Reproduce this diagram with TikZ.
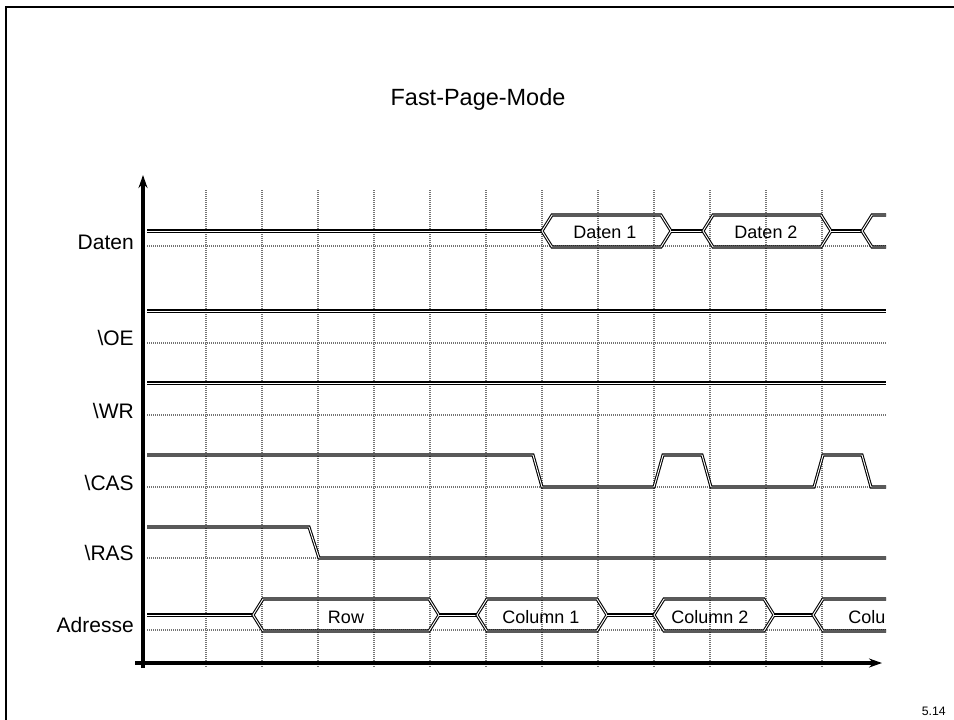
\documentclass[tikz,border=0pt]{standalone}
\usepackage{fontspec}
\setmainfont{Liberation Sans}
\usetikzlibrary{arrows.meta}
\newcommand\busbox[4]{% xl, xr, mid y, name
  \draw[sig] (#1,#3) -- (#1+10,#3-16) -- (#2-10,#3-16) -- (#2,#3) -- (#2-10,#3+16) -- (#1+10,#3+16) -- cycle;}
\begin{document}
\begin{tikzpicture}[x=0.75pt,y=-0.75pt,
  sig/.style={draw=black, double=white, double distance=0.7pt, line width=0.8pt, line join=miter},
  gridv/.style={draw=black!55, line width=2pt, dash pattern=on 0.75pt off 0.75pt},
  axisline/.style={draw=black, line width=3pt, -{Stealth[length=9.75pt,width=6.75pt]}},
  lab/.style={font=\fontsize{15.75}{18}\selectfont, anchor=base east, inner sep=0pt},
  boxtext/.style={font=\fontsize{13.5}{16}\selectfont, anchor=base, inner sep=0pt},
  frameline/.style={draw=black, line width=2.2pt}]
\useasboundingbox (0,0) rectangle (954,719);
% frame
\draw[frameline] (6,725) -- (6,7) -- (960,7);
% title
\node[font=\fontsize{17.6}{20}\selectfont, anchor=base, inner sep=0pt] (title) at (478,105) {Fast-Page-Mode};
% page number
\node[font=\fontsize{9.2}{11}\selectfont, anchor=base east, inner sep=0pt] (pagenum) at (946,715) {5.14};
% vertical grid
\foreach \k in {0,...,11} {
  \draw[gridv] (206+56*\k,190) -- (206+56*\k,668);
}
% horizontal reference lines
\foreach \y in {246,343,415,487,558,630} {
  \draw[gridv] (147,\y) -- (886,\y);
}
% labels
\node[lab] (lDaten) at (134,249.5) {Daten};
\node[lab] (lOE) at (134,345.5) {\textbackslash OE};
\node[lab] (lWR) at (134,418.5) {\textbackslash WR};
\node[lab] (lCAS) at (134,490.5) {\textbackslash CAS};
\node[lab] (lRAS) at (134,560.5) {\textbackslash RAS};
\node[lab] (lAdr) at (134,632.5) {Adresse};
% Daten bus
\draw[sig] (147,231) -- (542,231);
\busbox{542}{671}{231}{d1}
\draw[sig] (671,231) -- (703,231);
\busbox{703}{831}{231}{d2}
\draw[sig] (831,231) -- (862,231);
\draw[sig] (886,215) -- (872,215) -- (862,231) -- (872,247) -- (886,247);
\node[boxtext] (tD1) at (605,238.5) {Daten 1};
\node[boxtext] (tD2) at (766,238.5) {Daten 2};
% OE, WR
\draw[sig] (147,311) -- (886,311);
\draw[sig] (147,383) -- (886,383);
% CAS
\draw[sig] (147,455) -- (533,455) -- (542,487) -- (654,487) -- (663,455) -- (702,455) -- (711,487) -- (814,487) -- (823,455) -- (862,455) -- (871,487) -- (886,487);
% RAS
\draw[sig] (147,527) -- (309,527) -- (319,558) -- (886,558);
% Adresse bus
\draw[sig] (147,615) -- (253,615);
\busbox{253}{439}{615}{row}
\draw[sig] (439,615) -- (477,615);
\busbox{477}{607}{615}{c1}
\draw[sig] (607,615) -- (654,615);
\busbox{654}{774}{615}{c2}
\draw[sig] (774,615) -- (813,615);
\draw[sig] (886,599) -- (823,599) -- (813,615) -- (823,631) -- (886,631);
\node[boxtext] (tRow) at (346,623) {Row};
\node[boxtext] (tC1) at (541,623) {Column 1};
\node[boxtext] (tC2) at (710,623) {Column 2};
\node[boxtext, anchor=base west] (tC3) at (848,623) {Colu};
% axes
\draw[axisline] (143,668) -- (143,175);
\draw[axisline] (135,663) -- (882,663);
\end{tikzpicture}
\end{document}
